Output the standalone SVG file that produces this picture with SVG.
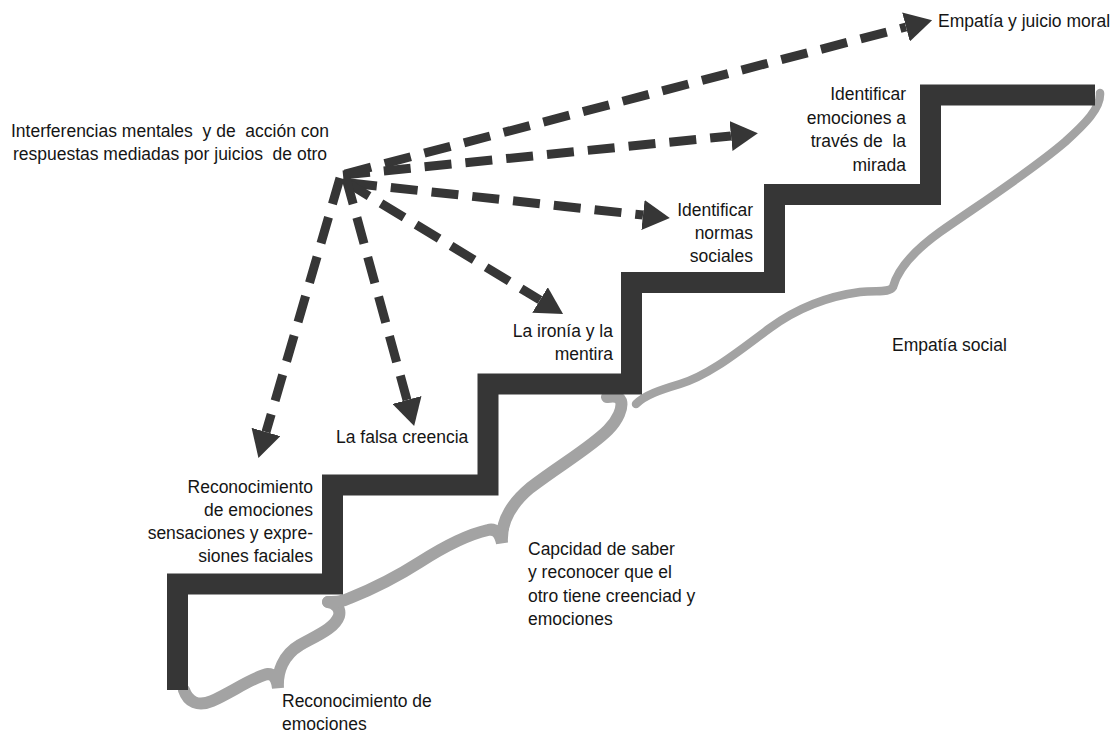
<svg xmlns="http://www.w3.org/2000/svg" width="1111" height="735" viewBox="0 0 1111 735">
<style>
text{font-family:"Liberation Sans",Arial,sans-serif;font-size:17.5px;fill:#151515}
.e{text-anchor:end}
.m{text-anchor:middle}
.brace{fill:none;stroke:#a3a3a3;stroke-width:12;stroke-linecap:round;stroke-linejoin:miter;stroke-miterlimit:6}
.brace.thin{stroke-width:8.5}
.stair{fill:none;stroke:#363636;stroke-width:21;stroke-linejoin:miter;stroke-linecap:butt}
.arr{fill:none;stroke:#363636;stroke-width:9;stroke-dasharray:27 14;marker-end:url(#ah)}
</style>
<defs>
<marker id="ah" markerUnits="userSpaceOnUse" viewBox="0 -15 27 30" refX="0" refY="0" markerWidth="27" markerHeight="30" orient="auto">
<path d="M0,-15 L27,0 L0,15 Z" fill="#363636"/>
</marker>
</defs>
<g id="braces">
<path class="brace" d="M184,690 C188,702 198,707 212,701 C232,692 255,676 268,674 C274,674 277,680 278,688 C277,672 283,655 300,645 C318,635 335,628 339,616 C341,608 335,603 328,602"/>
<path class="brace" d="M328,602 C336,602 342,602 350,598 C370,590 395,578 420,562 C445,546 470,534 488,530 C496,528 500,534 502,543 C501,528 506,508 530,488 C560,465 590,448 608,430 C618,420 623,408 621,401 C619,396 613,396 607,397"/>
<path class="brace thin" d="M636,404 C645,395 660,390 680,384 C710,375 740,350 770,328 C800,306 830,296 860,292 C878,290 889,293 893,287 C898,268 915,250 940,232 C980,204 1030,172 1065,142 C1085,124 1101,108 1100,93"/>
</g>
<g id="stairs">
<polyline class="stair" points="177.5,690 177.5,584 332.5,584 332.5,485 488,485 488,384 631.5,384 631.5,282.5 774.5,282.5 774.5,194.5 930.5,194.5 930.5,95 1095,95"/>
</g>
<g id="connectors">
<path class="arr" d="M345,174 L906,27"/>
<path class="arr" d="M343,175 L731,136"/>
<path class="arr" d="M350,183 L643,215"/>
<path class="arr" d="M346,182 L540,300"/>
<path class="arr" d="M346,178 L407,400"/>
<path class="arr" d="M340,178 L266,432"/>
</g>
<g id="node-origin"><text class="m" x="170" y="137" xml:space="preserve">Interferencias mentales  y de  acción con</text><text class="m" x="170" y="160" xml:space="preserve">respuestas mediadas por juicios  de otro</text></g>
<g id="node-juicio"><text x="938" y="27">Empatía y juicio moral</text></g>
<g id="node-mirada"><text class="e" x="906" y="100">Identificar</text><text class="e" x="906" y="123.5">emociones a</text><text class="e" x="906" y="147" xml:space="preserve">través de  la</text><text class="e" x="906" y="170.5">mirada</text></g>
<g id="node-normas"><text class="e" x="753" y="216">Identificar</text><text class="e" x="753" y="239">normas</text><text class="e" x="753" y="262">sociales</text></g>
<g id="node-ironia"><text class="e" x="613" y="337">La ironía y la</text><text class="e" x="613" y="360">mentira</text></g>
<g id="node-falsa"><text x="336" y="443">La falsa creencia</text></g>
<g id="node-reconoc"><text class="e" x="313" y="493">Reconocimiento</text><text class="e" x="313" y="516">de emociones</text><text class="e" x="313" y="539">sensaciones y expre-</text><text class="e" x="313" y="562">siones faciales</text></g>
<g id="node-capacidad"><text x="528" y="555">Capcidad de saber</text><text x="528" y="578">y reconocer que el</text><text x="528" y="602">otro tiene creenciad y</text><text x="528" y="625">emociones</text></g>
<g id="node-empatia-social"><text x="892" y="351">Empatía social</text></g>
<g id="node-reconoc-emociones"><text x="282" y="707">Reconocimiento de</text><text x="282" y="730">emociones</text></g>
</svg>
